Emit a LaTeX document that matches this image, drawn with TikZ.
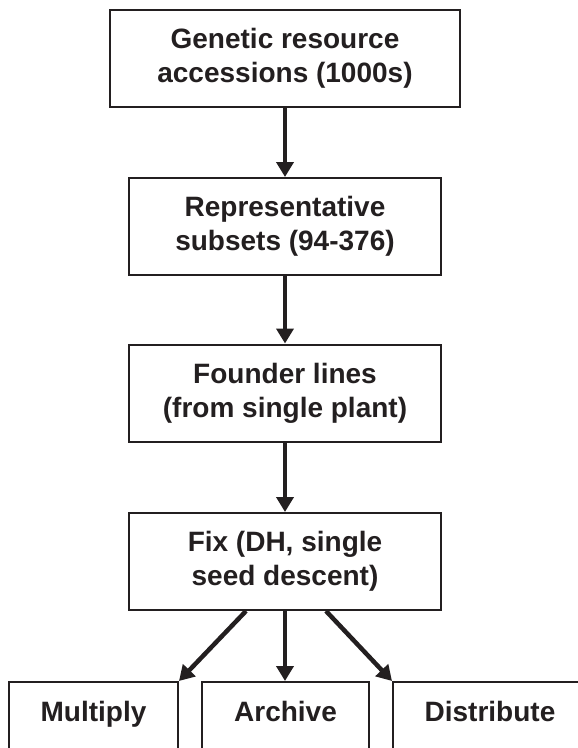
\documentclass[tikz,border=0pt]{standalone}
\usepackage{fontspec}
\setmainfont{Liberation Sans}
\usetikzlibrary{arrows.meta,calc}
\definecolor{ink}{HTML}{231F20}
\begin{document}
\begin{tikzpicture}[x=1pt,y=-1pt,
  every node/.style={font=\fontsize{28}{34}\selectfont\bfseries, text=ink},
  stepbox/.style={draw=ink, line width=2pt, minimum width=312pt, minimum height=97pt,
    inner sep=0pt, align=center},
  leafbox/.style={draw=ink, line width=2pt, anchor=north, inner sep=0pt,
    text height=39pt, text depth=58pt},
  flow/.style={draw=ink, line width=4.5pt, -{Triangle[width=17pt,length=15pt]}, shorten >=0pt}
]
\useasboundingbox (0,0) rectangle (578,748);
\clip (0,0) rectangle (578,748);

% main chain
\node[stepbox, minimum width=350pt] (gen) at (285,58.5) {Genetic resource\\accessions (1000s)};
\node[stepbox] (rep) at (285,226.5) {Representative\\subsets (94-376)};
\node[stepbox] (fou) at (285,393) {Founder lines\\(from single plant)};
\node[stepbox] (fix) at (285,561.5) {Fix (DH, single\\seed descent)};

% outcome boxes, running off the lower edge
\node[leafbox, minimum width=169pt] (mul) at (93.5,681) {Multiply};
\node[leafbox, minimum width=167pt] (arc) at (285.5,681) {Archive};
\node[leafbox, minimum width=194pt] (dis) at (490,681) {Distribute};

% connectors
\draw[flow] (gen.south) -- (rep.north);
\draw[flow] (rep.south) -- (fou.north);
\draw[flow] (fou.south) -- (fix.north);
\draw[flow] ($(fix.south)+(-39,0)$) -- (mul.north east);
\draw[flow] (fix.south) -- (fix.south |- arc.north);
\draw[flow] ($(fix.south)+(41,0)$) -- (dis.north west);
\end{tikzpicture}
\end{document}
